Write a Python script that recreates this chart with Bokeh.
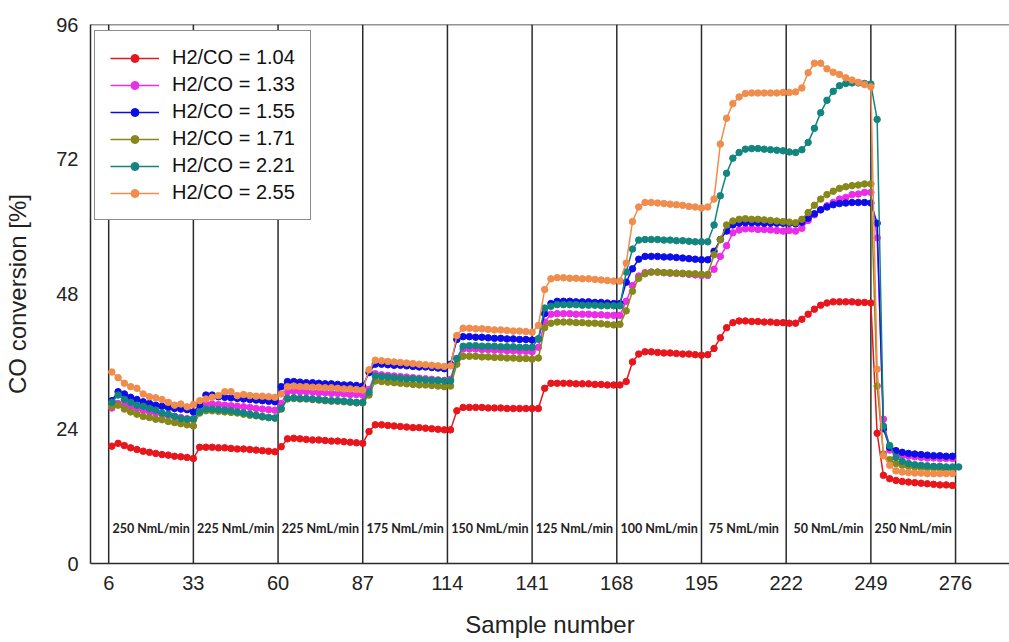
from bokeh.plotting import figure
from bokeh.models import Span, Legend, LegendItem, FixedTicker, Range1d, ColumnDataSource
from bokeh.core.properties import value
from bokeh.embed import file_html
from bokeh.resources import INLINE

# ---------------- data ----------------
sample = list(range(7, 279, 2))  # 7 .. 277

h2co_104 = [
    20.9, 21.4, 21.0, 20.6, 20.3, 20.0, 19.8, 19.6, 19.4, 19.3, 19.1, 19.0, 18.9, 18.7,
    20.7, 20.7, 20.7, 20.6, 20.6, 20.5, 20.4, 20.4, 20.3, 20.2, 20.1, 20.0, 19.9,
    20.8, 22.2, 22.3, 22.2, 22.1, 22.0, 22.0, 21.9, 21.8, 21.8, 21.7, 21.6, 21.5, 21.4,
    23.5, 24.7, 24.7, 24.6, 24.5, 24.4, 24.3, 24.2, 24.2, 24.1, 24.0, 23.9, 23.8,
    23.8, 27.2, 27.8, 27.8, 27.8, 27.8, 27.7, 27.7, 27.7, 27.6, 27.6, 27.6, 27.6, 27.6,
    27.6, 31.2, 32.1, 32.1, 32.1, 32.1, 32.0, 32.0, 32.0, 31.9, 31.9, 31.8, 31.8,
    31.8, 32.4, 35.9, 37.3, 37.7, 37.7, 37.6, 37.5, 37.5, 37.4, 37.3, 37.3, 37.2, 37.1,
    37.2, 38.3, 40.2, 42.0, 42.9, 43.2, 43.2, 43.1, 43.1, 43.0, 43.0, 42.9, 42.9,
    42.8, 42.8, 43.5, 44.4, 45.3, 46.0, 46.4, 46.6, 46.6, 46.6, 46.6, 46.5, 46.5, 46.4,
    23.2, 15.7, 15.1, 14.8, 14.6, 14.5, 14.4, 14.3, 14.2, 14.1, 14.0, 14.0, 13.9,
]

h2co_133 = [
    27.7, 28.5, 28.2, 27.9, 27.6, 27.3, 27.0, 26.8, 26.6, 26.4, 26.2, 26.0, 25.8, 25.6,
    27.0, 28.4, 28.4, 28.3, 28.2, 28.1, 28.0, 27.9, 27.8, 27.6, 27.5, 27.4, 27.3,
    28.5, 30.6, 30.7, 30.6, 30.6, 30.5, 30.4, 30.4, 30.3, 30.3, 30.2, 30.1, 30.1, 30.0,
    31.0, 33.8, 33.6, 33.5, 33.4, 33.3, 33.2, 33.1, 33.0, 32.9, 32.8, 32.7, 32.6,
    32.8, 36.5, 38.2, 38.2, 38.2, 38.1, 38.1, 38.0, 38.0, 37.9, 37.9, 37.8, 37.8, 37.7,
    38.5, 43.0, 44.4, 44.5, 44.5, 44.5, 44.4, 44.4, 44.4, 44.3, 44.3, 44.2, 44.2,
    44.2, 46.7, 49.5, 51.2, 51.8, 51.9, 51.9, 51.8, 51.7, 51.7, 51.6, 51.5, 51.4, 51.3,
    51.3, 52.4, 54.7, 56.6, 58.9, 59.4, 59.6, 59.6, 59.5, 59.5, 59.4, 59.3, 59.2,
    59.3, 59.2, 59.7, 61.1, 62.1, 63.0, 63.7, 64.3, 64.9, 65.2, 65.7, 65.8, 66.1, 66.1,
    58.0, 25.7, 20.2, 19.6, 19.3, 19.1, 19.0, 18.9, 18.8, 18.8, 18.7, 18.7, 18.7,
]

h2co_155 = [
    29.0, 30.6, 30.2, 29.6, 29.2, 28.8, 28.5, 28.2, 28.0, 27.8, 27.6, 27.5, 27.4, 27.0,
    28.2, 30.0, 30.0, 29.7, 29.6, 29.5, 29.4, 29.3, 29.2, 29.1, 29.0, 28.9, 28.8,
    31.5, 32.4, 32.4, 32.3, 32.2, 32.2, 32.1, 32.0, 32.0, 31.9, 31.8, 31.8, 31.7, 31.6,
    34.0, 35.5, 35.5, 35.4, 35.3, 35.3, 35.2, 35.1, 35.0, 35.0, 34.9, 34.8, 34.7,
    35.5, 39.9, 40.4, 40.4, 40.3, 40.3, 40.2, 40.1, 40.1, 40.0, 40.0, 39.9, 39.9, 39.8,
    40.0, 44.5, 46.3, 46.7, 46.7, 46.7, 46.6, 46.6, 46.6, 46.5, 46.5, 46.4, 46.3,
    46.3, 50.1, 52.5, 54.2, 54.7, 54.7, 54.7, 54.6, 54.6, 54.5, 54.4, 54.3, 54.2, 54.1,
    54.1, 55.6, 57.7, 59.2, 60.3, 60.6, 60.7, 60.7, 60.7, 60.6, 60.6, 60.6, 60.6,
    60.6, 60.5, 60.8, 61.5, 62.3, 63.0, 63.5, 63.9, 64.1, 64.2, 64.3, 64.3, 64.3, 64.2,
    60.6, 24.0, 20.7, 20.1, 19.8, 19.6, 19.5, 19.4, 19.3, 19.2, 19.2, 19.1, 19.1,
]

h2co_171 = [
    28.0, 28.2, 27.5, 27.0, 26.6, 26.2, 26.0, 25.7, 25.6, 25.3, 25.1, 24.9, 24.7, 24.5,
    26.8, 27.2, 27.2, 27.1, 27.0, 26.9, 26.8, 26.6, 26.4, 26.3, 26.1, 26.0, 25.9,
    27.5, 29.3, 29.4, 29.3, 29.3, 29.2, 29.1, 29.0, 28.9, 28.9, 28.8, 28.7, 28.6, 28.6,
    30.0, 32.5, 32.4, 32.3, 32.2, 32.1, 32.0, 31.9, 31.8, 31.8, 31.7, 31.6, 31.5,
    31.6, 35.5, 36.9, 36.9, 36.9, 36.8, 36.8, 36.7, 36.7, 36.6, 36.6, 36.5, 36.5, 36.4,
    36.6, 42.0, 42.8, 43.0, 43.0, 43.0, 42.9, 42.9, 42.8, 42.8, 42.7, 42.6, 42.5,
    42.6, 45.0, 48.5, 50.8, 51.6, 51.9, 51.9, 51.8, 51.8, 51.7, 51.7, 51.6, 51.6, 51.5,
    51.5, 55.0, 57.7, 60.3, 61.0, 61.3, 61.4, 61.3, 61.3, 61.2, 61.1, 61.0, 60.9,
    60.8, 60.7, 61.3, 62.5, 63.8, 64.9, 65.7, 66.3, 66.8, 67.1, 67.3, 67.4, 67.6, 67.6,
    31.6, 19.5, 18.5, 17.8, 17.5, 17.3, 17.2, 17.1, 17.0, 17.0, 16.9, 16.9, 16.9,
]

h2co_221 = [
    28.7, 30.0, 29.2, 28.7, 28.2, 28.0, 27.6, 27.3, 26.8, 26.6, 26.2, 25.8, 25.7, 25.8,
    27.0, 27.5, 27.5, 27.4, 27.3, 27.2, 27.0, 26.8, 26.6, 26.4, 26.2, 26.0, 25.9,
    27.6, 29.4, 29.5, 29.4, 29.4, 29.3, 29.2, 29.1, 29.0, 29.0, 28.9, 28.8, 28.7, 28.7,
    30.5, 33.4, 33.3, 33.2, 33.1, 33.0, 32.9, 32.9, 32.8, 32.7, 32.6, 32.6, 32.5,
    32.5, 36.5, 38.7, 38.8, 38.8, 38.7, 38.7, 38.7, 38.6, 38.6, 38.6, 38.5, 38.5, 38.5,
    40.0, 45.5, 45.8, 46.1, 46.1, 46.1, 46.1, 46.0, 46.0, 46.0, 45.9, 45.9, 45.9,
    45.9, 51.9, 56.0, 57.6, 57.7, 57.7, 57.7, 57.6, 57.6, 57.5, 57.5, 57.4, 57.3, 57.3,
    57.3, 60.3, 65.5, 69.5, 72.2, 73.2, 73.8, 73.9, 73.9, 73.8, 73.7, 73.6, 73.5,
    73.3, 73.2, 73.7, 75.0, 77.5, 80.3, 82.5, 84.1, 85.1, 85.5, 85.6, 85.6, 85.5, 85.4,
    79.1, 24.5, 21.0, 18.9, 18.2, 17.8, 17.6, 17.5, 17.4, 17.3, 17.3, 17.2, 17.2, 17.2,
]

h2co_255 = [
    34.1, 33.1, 32.1, 31.5, 31.2, 30.2, 29.7, 29.5, 29.2, 28.7, 28.2, 28.4, 27.9, 28.3,
    29.0, 29.3, 29.6, 29.9, 30.6, 30.6, 29.9, 30.1, 29.9, 29.8, 29.8, 29.7, 29.6,
    30.2, 31.5, 31.6, 31.5, 31.5, 31.4, 31.4, 31.3, 31.3, 31.2, 31.1, 31.1, 31.0, 30.9,
    34.5, 36.2, 36.1, 36.0, 35.9, 35.8, 35.7, 35.6, 35.5, 35.4, 35.3, 35.2, 35.1,
    35.2, 40.6, 41.9, 41.9, 41.8, 41.8, 41.7, 41.6, 41.6, 41.5, 41.4, 41.4, 41.3, 41.2,
    42.4, 48.8, 50.7, 50.9, 50.9, 50.8, 50.8, 50.7, 50.7, 50.6, 50.5, 50.4, 50.3,
    50.3, 53.5, 60.9, 63.5, 64.3, 64.3, 64.2, 64.1, 64.0, 63.9, 63.8, 63.6, 63.5, 63.3,
    63.5, 64.9, 74.7, 79.3, 81.9, 83.1, 83.7, 83.8, 83.8, 83.8, 83.8, 83.8, 83.9,
    83.9, 84.0, 84.7, 87.4, 89.1, 89.1, 88.1, 87.5, 87.1, 86.5, 86.1, 85.7, 85.3, 84.9,
    34.6, 19.2, 17.5, 16.5, 16.3, 16.2, 16.1, 16.1, 16.0, 16.0, 16.0, 16.0, 16.0,
]

series_names = ["H2/CO = 1.04", "H2/CO = 1.33", "H2/CO = 1.55",
                "H2/CO = 1.71", "H2/CO = 2.21", "H2/CO = 2.55"]
series_values = [h2co_104, h2co_133, h2co_155, h2co_171, h2co_221, h2co_255]
series_colors = ["#e8161c", "#ec2ce6", "#0d0de8", "#87871a", "#13857f", "#f08c4c"]

x_ticks = [6, 33, 60, 87, 114, 141, 168, 195, 222, 249, 276]
y_ticks = [0, 24, 48, 72, 96]
flow_labels = ["250 NmL/min", "225 NmL/min", "225 NmL/min", "175 NmL/min", "150 NmL/min",
               "125 NmL/min", "100 NmL/min", "75 NmL/min", "50 NmL/min", "250 NmL/min"]

# ---------------- figure ----------------
p = figure(width=1009, height=642,
           x_range=Range1d(0.2, 293.2), y_range=Range1d(0, 96),
           output_backend="svg", toolbar_location=None,
           min_border_left=90, min_border_right=0, min_border_top=24, min_border_bottom=79)
p.outline_line_color = None
p.grid.visible = False
p.background_fill_color = "white"
p.border_fill_color = "white"

# separator lines and top border
for b in x_ticks:
    p.add_layout(Span(location=b, dimension="height", line_color="#2a2a2a",
                      line_width=1.5, level="underlay"))
p.add_layout(Span(location=y_ticks[-1], dimension="width", line_color="#2a2a2a",
                  line_width=1.5, level="underlay"))

# flow labels
mids = [(x_ticks[i] + x_ticks[i + 1]) / 2 for i in range(len(flow_labels))]
p.text(x=mids, y=6.2, text=flow_labels, text_font=value("Lato"),
       text_font_style="bold", text_font_size="12.5px", text_align="center",
       text_baseline="middle", text_color="#222222")

items = []
for name, vals, col in zip(series_names, series_values, series_colors):
    src = ColumnDataSource(dict(x=sample[:len(vals)], y=vals))
    ln = p.line("x", "y", source=src, line_color=col, line_width=1.5)
    sc = p.scatter("x", "y", source=src, size=6.5, fill_color=col, line_color=col)
    items.append(LegendItem(label=name, renderers=[ln, sc]))

legend = Legend(items=items, location=(4, 343), padding=15, margin=0,
                glyph_width=49, glyph_height=20, label_height=20, spacing=4,
                label_standoff=13, label_text_font_size="20px",
                label_text_font="Liberation Sans", label_text_color="#111111",
                border_line_color="#1a1a1a", border_line_width=1.5,
                background_fill_color="white", background_fill_alpha=1.0)
p.add_layout(legend)

# axes
for ax in (p.xaxis[0], p.yaxis[0]):
    ax.axis_line_color = "#2a2a2a"
    ax.axis_line_width = 1.5
    ax.major_tick_out = 0
    ax.major_tick_in = 0
    ax.minor_tick_line_color = None
    ax.major_label_text_font = "Liberation Sans"
    ax.major_label_text_font_size = "20px"
    ax.major_label_text_color = "#222222"
    ax.axis_label_text_font = "Liberation Sans"
    ax.axis_label_text_font_size = "24px"
    ax.axis_label_text_font_style = "normal"
    ax.axis_label_text_color = "#222222"
    ax.major_label_standoff = 12

p.xaxis.ticker = FixedTicker(ticks=x_ticks)
p.yaxis.ticker = FixedTicker(ticks=y_ticks)
p.xaxis.axis_label = "Sample number"
p.yaxis.axis_label = "CO conversion [%]"
p.xaxis.axis_label_standoff = 18
p.yaxis.axis_label_standoff = 22

open("out.html", "w").write(file_html(p, INLINE))
